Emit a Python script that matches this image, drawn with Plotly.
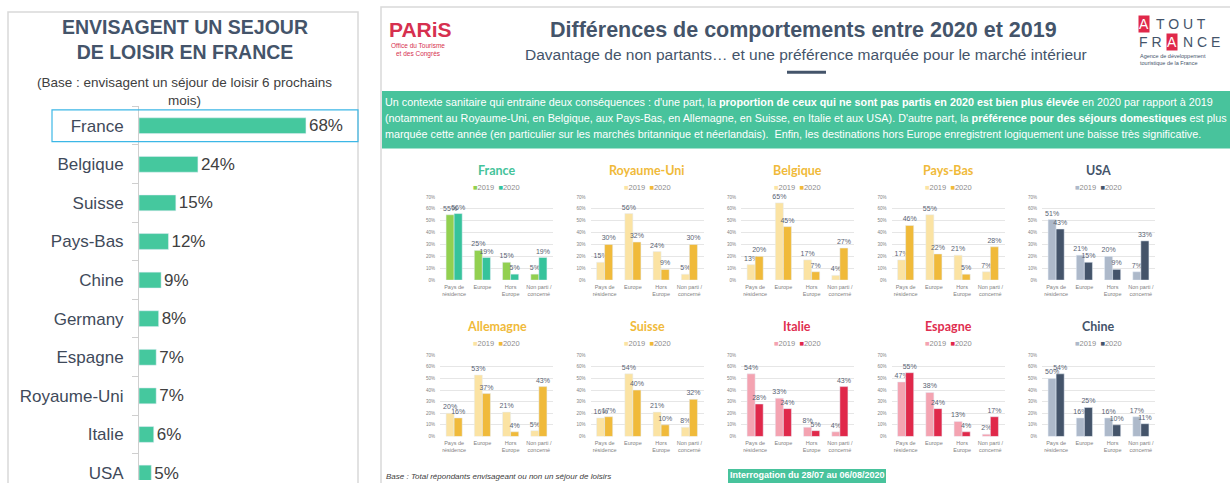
import plotly.graph_objects as go

W, H = 1230, 483

# ---------------- data ----------------
left_countries = ["France", "Belgique", "Suisse", "Pays-Bas", "Chine", "Germany",
                  "Espagne", "Royaume-Uni", "Italie", "USA"]
left_values = [68, 24, 15, 12, 9, 8, 7, 7, 6, 5]

categories = ["Pays de<br>résidence", "Europe", "Hors<br>Europe", "Non parti /<br>concerné"]
years = ["2019", "2020"]

france_2019 = [55, 25, 15, 5]
france_2020 = [56, 19, 5, 19]
ru_2019 = [15, 56, 24, 5]
ru_2020 = [30, 32, 9, 30]
belgique_2019 = [13, 65, 17, 4]
belgique_2020 = [20, 45, 7, 27]
paysbas_2019 = [17, 55, 21, 7]
paysbas_2020 = [46, 22, 5, 28]
usa_2019 = [51, 21, 20, 7]
usa_2020 = [43, 15, 9, 33]
allemagne_2019 = [20, 53, 21, 5]
allemagne_2020 = [16, 37, 4, 43]
suisse_2019 = [16, 54, 21, 8]
suisse_2020 = [17, 40, 10, 32]
italie_2019 = [54, 33, 8, 4]
italie_2020 = [28, 24, 5, 43]
espagne_2019 = [47, 38, 13, 2]
espagne_2020 = [55, 24, 4, 17]
chine_2019 = [50, 16, 16, 17]
chine_2020 = [54, 25, 10, 11]

y_ticks = [0, 10, 20, 30, 40, 50, 60, 70]

# ---------------- styles ----------------
GREEN = ("#92d050", "#36c39b", "#45c39a")
YELLOW = ("#fbe3a3", "#f0ba3a", "#f0ba3a")
SLATE = ("#adb9ca", "#44546a", "#44546a")
RED = ("#f4a3b1", "#e0284a", "#df2e50")

markets = [
    ("France", france_2019, france_2020, GREEN),
    ("Royaume-Uni", ru_2019, ru_2020, YELLOW),
    ("Belgique", belgique_2019, belgique_2020, YELLOW),
    ("Pays-Bas", paysbas_2019, paysbas_2020, YELLOW),
    ("USA", usa_2019, usa_2020, SLATE),
    ("Allemagne", allemagne_2019, allemagne_2020, YELLOW),
    ("Suisse", suisse_2019, suisse_2020, YELLOW),
    ("Italie", italie_2019, italie_2020, RED),
    ("Espagne", espagne_2019, espagne_2020, RED),
    ("Chine", chine_2019, chine_2020, SLATE),
]

DARK = "#44546a"
FONT = "Liberation Sans"
TFONT = "Lato"


def px(x):
    return x / W


def py(y):
    return 1 - y / H


fig = go.Figure()
layout = {}
annotations = []
shapes = []

# ---------------- left chart ----------------
fig.add_trace(go.Bar(
    y=left_countries, x=left_values, orientation="h", width=0.41,
    marker=dict(color="#45c89e"),
    text=[f"{v}%" for v in left_values], textposition="outside",
    textfont=dict(size=17, color="#404040", family=FONT),
    cliponaxis=False, constraintext="none", showlegend=False,
    xaxis="x", yaxis="y", hoverinfo="skip",
))
layout["xaxis"] = dict(domain=[px(139), px(358)], range=[0, 89.2], visible=False)
layout["yaxis"] = dict(domain=[0, py(105.5)], range=[9.18, -0.5], type="category",
                       categoryorder="array", categoryarray=left_countries,
                       showline=True, linecolor="#cfcfcf", linewidth=1,
                       ticks="outside", tickson="boundaries", ticklen=6,
                       tickcolor="#cfcfcf", showgrid=False, zeroline=False,
                       tickfont=dict(size=17, color="#3f4a5a", family=FONT),
                       ticklabelstandoff=11)

# left panel frame + highlight
shapes.append(dict(type="rect", xref="paper", yref="paper", x0=px(8), x1=px(358),
                   y0=py(495), y1=py(10), line=dict(color="#d9d9d9", width=1.5),
                   fillcolor="rgba(0,0,0,0)", layer="below"))
shapes.append(dict(type="rect", xref="paper", yref="y", x0=px(52), x1=px(358),
                   y0=-0.41, y1=0.41, line=dict(color="#3cb7e6", width=1.2),
                   fillcolor="rgba(0,0,0,0)"))
annotations.append(dict(text="<b>ENVISAGENT UN SEJOUR<br>DE LOISIR EN FRANCE</b>",
                        xref="paper", yref="paper", x=px(185), y=py(38),
                        showarrow=False, xanchor="center", yanchor="middle",
                        font=dict(size=19.5, color=DARK, family=FONT)))
annotations.append(dict(text="(Base : envisagent un séjour de loisir 6 prochains<br>mois)",
                        xref="paper", yref="paper", x=px(184), y=py(90),
                        showarrow=False, xanchor="center", yanchor="middle",
                        font=dict(size=13.5, color="#404040", family=FONT)))

# ---------------- right panel decorations ----------------
shapes.append(dict(type="rect", xref="paper", yref="paper", x0=px(381), x1=px(1240),
                   y0=py(495), y1=py(5), line=dict(color="#d9d9d9", width=1.5),
                   fillcolor="rgba(0,0,0,0)", layer="below"))
shapes.append(dict(type="rect", xref="paper", yref="paper", x0=px(382), x1=px(1240),
                   y0=py(148), y1=py(90), line=dict(width=0),
                   fillcolor="#48c39c", layer="below"))
shapes.append(dict(type="line", xref="paper", yref="paper", x0=px(787), x1=px(826),
                   y0=py(71), y1=py(71), line=dict(color=DARK, width=3)))
shapes.append(dict(type="rect", xref="paper", yref="paper", x0=px(728), x1=px(886),
                   y0=py(490), y1=py(472), line=dict(width=0),
                   fillcolor="#48c39c", layer="below"))

annotations.append(dict(text="<b>Différences de comportements entre 2020 et 2019</b>",
                        xref="paper", yref="paper", x=px(803), y=py(28),
                        showarrow=False, xanchor="center", yanchor="middle",
                        font=dict(size=21.5, color=DARK, family=FONT)))
annotations.append(dict(text="Davantage de non partants… et une préférence marquée pour le marché intérieur",
                        xref="paper", yref="paper", x=px(806), y=py(53),
                        showarrow=False, xanchor="center", yanchor="middle",
                        font=dict(size=15.5, color=DARK, family=FONT)))

banner = [
    "Un contexte sanitaire qui entraine deux conséquences : d'une part, la <b>proportion de ceux qui ne sont pas partis en 2020 est bien plus élevée</b> en 2020 par rapport à 2019",
    "(notamment au Royaume-Uni, en Belgique, aux Pays-Bas, en Allemagne, en Suisse, en Italie et aux USA). D'autre part, la <b>préférence pour des séjours domestiques</b> est plus",
    "marquée cette année (en particulier sur les marchés britannique et néerlandais).  Enfin, les destinations hors Europe enregistrent logiquement une baisse très significative.",
]
for k, line in enumerate(banner):
    annotations.append(dict(text=line, xref="paper", yref="paper", x=px(383),
                            y=py(101 + 16 * k), showarrow=False, xanchor="left",
                            yanchor="middle",
                            font=dict(size=10.8, color="white", family=FONT)))

annotations.append(dict(text="<i>Base : Total répondants envisageant ou non un séjour de loisirs</i>",
                        xref="paper", yref="paper", x=px(384), y=py(479),
                        showarrow=False, xanchor="left", yanchor="middle",
                        font=dict(size=8, color="#404040", family=FONT)))
annotations.append(dict(text="<b>Interrogation du 28/07 au 06/08/2020</b>",
                        xref="paper", yref="paper", x=px(807), y=py(478),
                        showarrow=False, xanchor="center", yanchor="middle",
                        font=dict(size=9, color="white", family=FONT)))

# Paris logo
annotations.append(dict(text="<b>PARiS</b>", xref="paper", yref="paper", x=px(387), y=py(28),
                        showarrow=False, xanchor="left", yanchor="middle",
                        font=dict(size=21, color="#d6304f", family=FONT)))
annotations.append(dict(text="Office du Tourisme<br>et des Congrès", xref="paper", yref="paper",
                        x=px(418), y=py(48), showarrow=False, xanchor="center",
                        yanchor="middle",
                        font=dict(size=6.5, color="#d6304f", family=FONT)))
# Atout France logo
for txt, x, y, boxed in [("A", 1138, 22, True), ("T O U T", 1155, 22, False),
                         ("F R", 1138, 40, False), ("A", 1166, 40, True),
                         ("N C E", 1182, 40, False)]:
    annotations.append(dict(text=txt, xref="paper", yref="paper", x=px(x), y=py(y),
                            showarrow=False, xanchor="left", yanchor="middle",
                            bgcolor="#e0284a" if boxed else "rgba(0,0,0,0)",
                            borderpad=0,
                            font=dict(size=14, color="white" if boxed else DARK,
                                      family=FONT)))
annotations.append(dict(text="Agence de développement<br>touristique de la France",
                        xref="paper", yref="paper", x=px(1138), y=py(58),
                        showarrow=False, xanchor="left", yanchor="middle", align="left",
                        font=dict(size=5.5, color=DARK, family=FONT)))

# ---------------- small charts ----------------
rows = [dict(top=197, bottom=281, title=170, legend=187),
        dict(top=357, bottom=439, title=328, legend=345)]

for i, (name, v19, v20, col) in enumerate(markets):
    r = rows[i // 5]
    c = i % 5
    x0 = 440 + 150.5 * c
    x1 = x0 + 113
    n = i + 2
    xa, ya = f"x{n}", f"y{n}"
    for yr, vals, color in [(years[0], v19, col[0]), (years[1], v20, col[1])]:
        fig.add_trace(go.Bar(
            x=categories, y=vals, name=yr, marker=dict(color=color),
            text=[f"{v}%" for v in vals], textposition="outside",
            textfont=dict(size=7, color="#596373", family=FONT),
            cliponaxis=False, constraintext="none", showlegend=False,
            xaxis=xa, yaxis=ya, hoverinfo="skip",
        ))
    layout[f"xaxis{n}"] = dict(domain=[px(x0), px(x1)], anchor=ya, showgrid=False,
                               showline=False, ticks="", zeroline=False,
                               tickfont=dict(size=5.5, color="#7f7f7f", family=FONT),
                               ticklabelstandoff=2)
    layout[f"yaxis{n}"] = dict(domain=[py(r["bottom"]), py(r["top"])], anchor=xa,
                               range=[0, 70], tickvals=y_ticks,
                               ticktext=[f"{v}%" for v in y_ticks],
                               showgrid=True, gridcolor="#e6e6e6", gridwidth=1,
                               zeroline=False, showline=False,
                               tickfont=dict(size=4.5, color="#7f7f7f", family=FONT),
                               ticklabelstandoff=4)
    xc = px((x0 + x1) / 2)
    annotations.append(dict(text=f"<b>{name}</b>", xref="paper", yref="paper",
                            x=xc, y=py(r["title"]), showarrow=False,
                            xanchor="center", yanchor="middle",
                            font=dict(size=12.5, color=col[2], family=TFONT)))
    leg = (f"<span style='color:{col[0]}'>■</span>{years[0]}  "
           f"<span style='color:{col[1]}'>■</span>{years[1]}")
    annotations.append(dict(text=leg, xref="paper", yref="paper",
                            x=xc, y=py(r["legend"]), showarrow=False,
                            xanchor="center", yanchor="middle",
                            font=dict(size=7.5, color="#8c8c8c", family=FONT)))

layout.update(dict(
    width=W, height=H, margin=dict(l=0, r=0, t=0, b=0),
    paper_bgcolor="white", plot_bgcolor="rgba(0,0,0,0)",
    barmode="group", bargap=0.43, bargroupgap=0,
    showlegend=False, annotations=annotations, shapes=shapes,
    font=dict(family=FONT),
))
fig.update_layout(**layout)
fig.write_html("out.html", config={"displayModeBar": False})
